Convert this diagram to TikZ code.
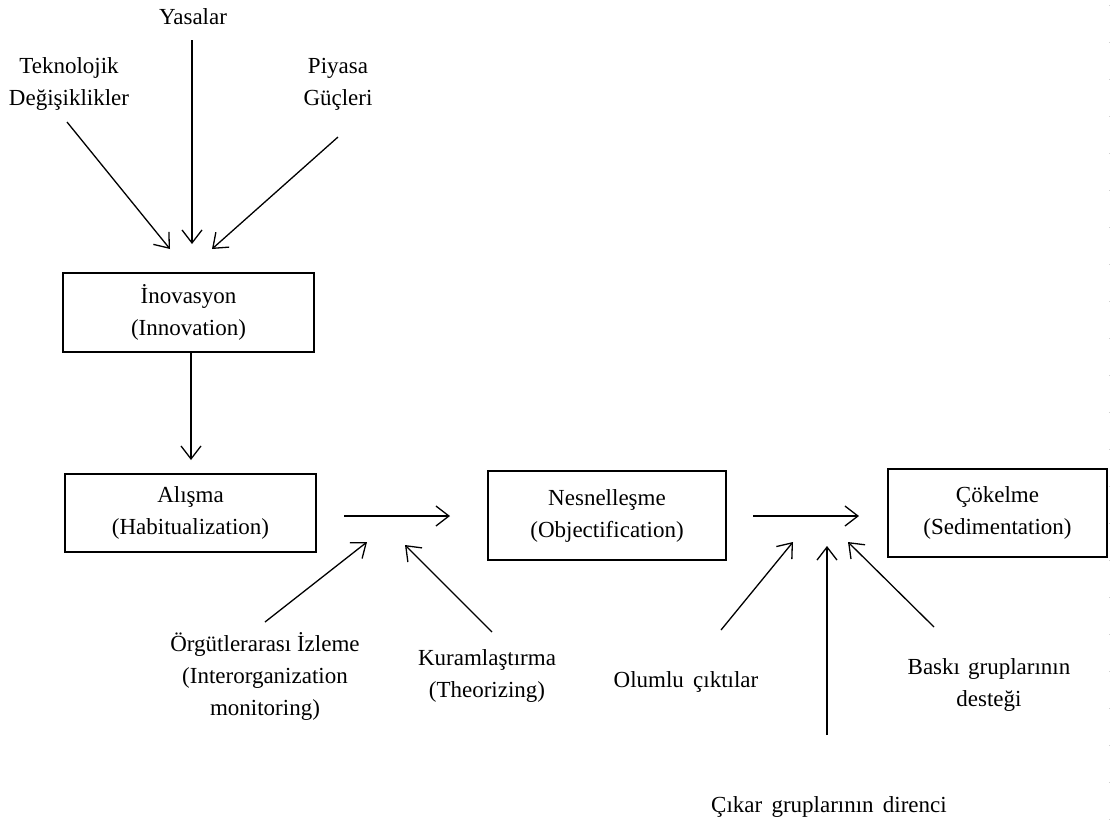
\documentclass[tikz,border=0pt]{standalone}
\usepackage{fontspec}
\setmainfont{Liberation Serif}
\usetikzlibrary{arrows.meta}
\begin{document}
\begin{tikzpicture}[x=1pt,y=-1pt,
  every node/.style={font=\fontsize{23}{32}\selectfont, align=center, inner sep=0pt},
  stagebox/.style={draw, line width=1.3pt, minimum width=#1, inner sep=0pt},
  flow/.style={line width=1.3pt, -{Straight Barb[length=13pt,width=20pt,line width=1.3pt]}}]
\useasboundingbox (0,0) rectangle (1111,823);

% faint page edge
\draw[black!18, line width=0.8pt, dash pattern=on 1pt off 36pt] (1109.5,5) -- (1109.5,823);

% stage boxes
\node[stagebox=251pt, minimum height=79pt] (inov) at (188.5,312.5) {İnovasyon\\(Innovation)};
\node[stagebox=251pt, minimum height=78pt] (alis) at (190.5,513) {Alışma\\(Habitualization)};
\node[stagebox=238pt, minimum height=89pt] (nesn) at (607,515.5) {Nesnelleşme\\(Objectification)};
\node[stagebox=219pt, minimum height=88pt] (cokl) at (997.5,513) {Çökelme\\(Sedimentation)};

% influencing factors
\node (yas) at (193,17) {Yasalar};
\node (tek) at (69,84) {Teknolojik\\Değişiklikler};
\node (piy) at (338,84) {Piyasa\\Güçleri};
\node (org) at (265,676) {Örgütlerarası İzleme\\(Interorganization\\monitoring)};
\node (kur) at (487,676) {Kuramlaştırma\\(Theorizing)};
\node (olu) at (686,682) {Olumlu\hspace{0.15em} çıktılar};
\node (bas) at (989,685) {Baskı\hspace{0.1em} gruplarının\\desteği};
\node (cik) at (829,807) {Çıkar\hspace{0.15em} gruplarının\hspace{0.15em} direnci};

% arrow end points
\coordinate (tekS) at (67,122);   \coordinate (tekE) at (170,249);
\coordinate (yasS) at (192,40);   \coordinate (yasE) at (192,244);
\coordinate (piyS) at (338,137);  \coordinate (piyE) at (212,249);
\coordinate (inovE) at (191,460);
\coordinate (h1S) at (344,516);   \coordinate (h1E) at (450,516);
\coordinate (orgS) at (265,622);  \coordinate (orgE) at (367,542);
\coordinate (kurS) at (492,632);  \coordinate (kurE) at (405,545);
\coordinate (h2S) at (753,516);   \coordinate (h2E) at (859,516);
\coordinate (oluS) at (721,630);  \coordinate (oluE) at (793,542);
\coordinate (cikS) at (827,735);  \coordinate (cikE) at (827,546);
\coordinate (basS) at (934,627);  \coordinate (basE) at (848,542);

% arrows
\draw[flow] (tekS) -- (tekE);
\draw[flow] (yasS) -- (yasE);
\draw[flow] (piyS) -- (piyE);
\draw[flow] (inov.south -| inovE) -- (inovE);
\draw[flow] (h1S) -- (h1E);
\draw[flow] (orgS) -- (orgE);
\draw[flow] (kurS) -- (kurE);
\draw[flow] (h2S) -- (h2E);
\draw[flow] (oluS) -- (oluE);
\draw[flow] (cikS) -- (cikE);
\draw[flow] (basS) -- (basE);
\end{tikzpicture}
\end{document}
